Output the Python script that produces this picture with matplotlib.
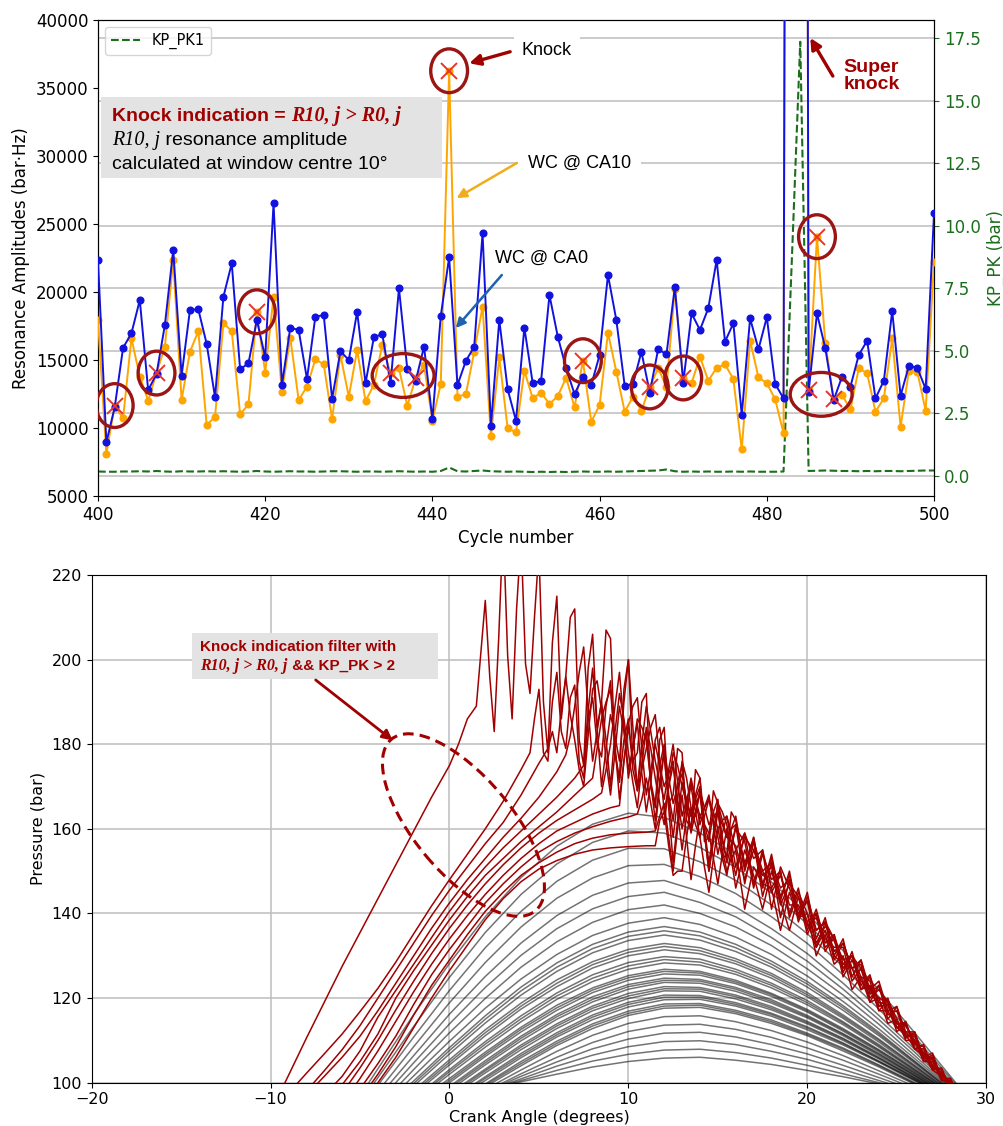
import numpy as np
import matplotlib.pyplot as plt
import matplotlib.transforms as mtransforms
from matplotlib.patches import Ellipse, Rectangle

## ---------------- upper panel : resonance amplitudes per cycle ----------------
Cycle_Number = list(range(400, 501))

## window centre at CA0 (blue)
WC_CA0 = [22350, 8950, 11520, 15900, 16960, 19410, 12790, 13970, 17570, 23090,
          13850, 18680, 18730, 16180, 12260, 19650, 22110, 14320, 14760, 17940,
          15200, 26520, 13160, 17380, 17210, 13600, 18180, 18310, 12150, 15650,
          15000, 18550, 13290, 16670, 16910, 13330, 20270, 14320, 13460, 15980,
          10640, 18240, 22550, 13160, 14930, 15980, 24320, 10150, 17940, 12850,
          10540, 17380, 13290, 13460, 19780, 16710, 14390, 12500, 13770, 13160,
          15370, 21250, 17940, 13110, 13240, 15610, 12600, 15790, 15420, 20390,
          13330, 18430, 17210, 18800, 22350, 16350, 17700, 10960, 18070, 15790,
          18140, 13240, 12180, 250000, 300000, 12670, 18430, 15860, 12060, 13770,
          13040, 15370, 16420, 12180, 13480, 18600, 12380, 14580, 14430, 12870, 25790]

## window centre at CA10 (orange)
WC_CA10 = [17940, 8090, 11650, 10710, 16600, 13770, 12010, 14040, 15980, 22350,
           12060, 15610, 17130, 10220, 10830, 17700, 17130, 11010, 11740, 18550,
           14070, 19650, 12670, 16640, 12060, 13040, 15050, 14680, 10660, 15370,
           12300, 15740, 11990, 13160, 16100, 14040, 14390, 11620, 13680, 14630,
           10540, 13240, 36270, 12300, 12480, 15600, 18920, 9410, 15200, 9980,
           9680, 14210, 12180, 12600, 11770, 12350, 13700, 11520, 14950, 10460,
           11690, 17010, 14140, 11200, 12300, 11270, 13020, 14390, 13040, 20200,
           13680, 13290, 15240, 13480, 14430, 14680, 13600, 8430, 16420, 13730,
           13290, 12110, 9610, 250000, 300000, 12800, 24070, 16230, 12150, 12430,
           11380, 14390, 14020, 11200, 12180, 16600, 10100, 14210, 14140, 11270, 22230]

## knock peak-to-peak pressure (right axis)
KP_PK1 = [0.18, 0.17, 0.17, 0.18, 0.18, 0.19, 0.18, 0.20, 0.18, 0.17,
          0.19, 0.18, 0.18, 0.19, 0.18, 0.19, 0.18, 0.17, 0.18, 0.20,
          0.18, 0.17, 0.18, 0.19, 0.18, 0.18, 0.17, 0.18, 0.19, 0.19,
          0.18, 0.17, 0.18, 0.18, 0.17, 0.18, 0.19, 0.18, 0.17, 0.18,
          0.17, 0.20, 0.34, 0.19, 0.18, 0.20, 0.22, 0.19, 0.18, 0.17,
          0.18, 0.17, 0.16, 0.17, 0.16, 0.17, 0.16, 0.17, 0.18, 0.17,
          0.17, 0.18, 0.17, 0.18, 0.19, 0.20, 0.21, 0.22, 0.26, 0.19,
          0.17, 0.18, 0.17, 0.18, 0.17, 0.17, 0.18, 0.17, 0.18, 0.17,
          0.17, 0.17, 0.18, 8.7, 17.36, 0.20, 0.21, 0.22, 0.21, 0.20,
          0.20, 0.19, 0.20, 0.19, 0.20, 0.20, 0.19, 0.20, 0.21, 0.22, 0.22]

## cycles flagged as knock (R10,j > R0,j) and how they are circled
Knock_Cycles = [402, 407, 419, 435, 438, 442, 458, 466, 470, 485, 486, 488]
Circled_Groups = [[402], [407], [419], [435, 438], [442], [458], [466], [470], [486], [485, 488]]

## ---------------- lower panel : in-cylinder pressure traces ----------------
Gray_Crank_Angle = list(range(-6, 31, 2))
Gray_Pressure = [
    [90.3, 103.3, 116.1, 128.2, 139.2, 148.5, 155.9, 161.1, 163.7, 162.7, 159.0, 154.0, 147.4, 139.9, 131.2, 121.9, 111.8, 101.5, 91.2],
    [89.0, 101.2, 113.3, 124.9, 135.5, 144.5, 151.7, 156.8, 159.5, 159.0, 155.6, 150.9, 144.8, 137.5, 129.3, 120.3, 110.8, 101.0, 91.1],
    [87.9, 99.4, 110.8, 121.8, 131.9, 140.5, 147.6, 152.6, 155.4, 155.3, 152.2, 147.8, 142.0, 135.2, 127.4, 118.9, 109.8, 100.4, 91.0],
    [87.1, 97.9, 108.5, 118.9, 128.4, 136.8, 143.6, 148.4, 151.3, 151.6, 148.7, 144.7, 139.2, 132.9, 125.5, 117.4, 108.8, 100.0, 91.1],
    [86.5, 96.5, 106.4, 116.2, 125.1, 133.0, 139.5, 144.3, 147.2, 147.8, 145.2, 141.5, 136.4, 130.5, 123.5, 115.9, 107.9, 99.6, 91.3],
    [85.9, 95.3, 104.7, 113.9, 122.5, 130.1, 136.4, 141.1, 144.0, 145.0, 142.6, 139.2, 134.3, 128.7, 122.1, 114.9, 107.2, 99.2, 91.2],
    [85.4, 94.2, 103.1, 111.8, 119.9, 127.3, 133.3, 137.9, 140.9, 142.0, 140.0, 136.8, 132.4, 126.9, 120.7, 113.8, 106.4, 98.9, 91.3],
    [85.1, 93.4, 101.6, 109.8, 117.6, 124.5, 130.3, 134.8, 137.7, 139.0, 137.4, 134.4, 130.3, 125.2, 119.2, 112.7, 105.7, 98.6, 91.4],
    [84.5, 92.4, 100.4, 108.3, 115.8, 122.6, 128.3, 132.7, 135.6, 136.9, 135.6, 132.7, 128.7, 123.9, 118.2, 111.9, 105.1, 98.3, 91.3],
    [84.3, 92.0, 99.8, 107.6, 115.0, 121.7, 127.3, 131.7, 134.6, 135.9, 134.7, 131.9, 128.0, 123.3, 117.7, 111.5, 104.9, 98.2, 91.4],
    [84.0, 91.6, 99.2, 106.8, 114.1, 120.7, 126.3, 130.7, 133.6, 134.9, 133.7, 131.0, 127.3, 122.6, 117.1, 111.1, 104.6, 98.0, 91.4],
    [83.6, 90.9, 98.2, 105.4, 112.5, 118.8, 124.3, 128.6, 131.5, 132.9, 131.9, 129.3, 125.8, 121.3, 116.0, 110.3, 104.1, 97.8, 91.5],
    [83.3, 90.5, 97.7, 104.8, 111.8, 118.1, 123.5, 127.9, 130.8, 132.2, 131.2, 128.7, 125.3, 120.8, 115.6, 110.0, 103.9, 97.7, 91.5],
    [83.0, 90.1, 97.2, 104.2, 111.1, 117.4, 122.7, 127.1, 130.0, 131.4, 130.5, 128.1, 124.7, 120.3, 115.2, 109.6, 103.6, 97.5, 91.4],
    [82.6, 89.4, 96.2, 103.1, 109.7, 115.8, 121.2, 125.5, 128.4, 129.8, 129.2, 126.8, 123.5, 119.4, 114.4, 109.0, 103.2, 97.4, 91.4],
    [82.4, 89.1, 95.8, 102.6, 109.1, 115.1, 120.5, 124.7, 127.6, 129.1, 128.5, 126.2, 123.0, 118.9, 114.1, 108.7, 103.0, 97.3, 91.5],
    [82.2, 88.8, 95.4, 102.0, 108.4, 114.4, 119.7, 123.9, 126.8, 128.3, 127.8, 125.6, 122.4, 118.4, 113.7, 108.4, 102.8, 97.2, 91.5],
    [81.8, 88.2, 94.6, 101.0, 107.2, 113.1, 118.3, 122.4, 125.3, 126.8, 126.3, 124.2, 121.1, 117.3, 112.8, 107.8, 102.5, 97.0, 91.6],
    [81.6, 87.9, 94.2, 100.5, 106.7, 112.6, 117.7, 121.9, 124.8, 126.3, 125.9, 123.8, 120.8, 117.0, 112.5, 107.6, 102.3, 96.9, 91.6],
    [81.3, 87.5, 93.8, 100.0, 106.2, 112.0, 117.1, 121.3, 124.2, 125.7, 125.4, 123.4, 120.4, 116.7, 112.2, 107.3, 102.1, 96.8, 91.5],
    [80.7, 86.8, 92.9, 99.1, 105.2, 111.0, 116.1, 120.3, 123.2, 124.7, 124.4, 122.5, 119.6, 115.9, 111.6, 106.9, 101.8, 96.6, 91.5],
    [80.5, 86.5, 92.6, 98.7, 104.7, 110.5, 115.6, 119.7, 122.7, 124.2, 124.0, 122.1, 119.2, 115.6, 111.4, 106.7, 101.7, 96.6, 91.5],
    [80.2, 86.2, 92.2, 98.2, 104.2, 109.9, 115.0, 119.1, 122.1, 123.7, 123.5, 121.6, 118.8, 115.3, 111.1, 106.4, 101.5, 96.5, 91.5],
    [79.7, 85.6, 91.5, 97.4, 103.2, 108.9, 113.9, 118.1, 121.1, 122.7, 122.5, 120.7, 118.0, 114.5, 110.5, 106.0, 101.2, 96.4, 91.5],
    [79.6, 85.4, 91.2, 97.0, 102.8, 108.4, 113.4, 117.6, 120.5, 122.2, 122.1, 120.3, 117.6, 114.2, 110.3, 105.8, 101.1, 96.3, 91.5],
    [79.4, 85.2, 90.9, 96.6, 102.3, 107.8, 112.8, 117.0, 119.9, 121.7, 121.6, 119.8, 117.2, 113.9, 110.0, 105.6, 100.9, 96.2, 91.5],
    [79.0, 84.6, 90.2, 95.8, 101.4, 106.9, 111.8, 116.0, 119.0, 120.7, 120.6, 118.9, 116.4, 113.2, 109.4, 105.1, 100.7, 96.2, 91.6],
    [79.0, 84.5, 90.0, 95.5, 101.0, 106.4, 111.3, 115.5, 118.5, 120.2, 120.2, 118.5, 116.1, 112.9, 109.2, 105.0, 100.6, 96.2, 91.7],
    [78.9, 84.3, 89.7, 95.1, 100.5, 105.9, 110.8, 114.9, 117.9, 119.6, 119.7, 118.1, 115.7, 112.5, 108.9, 104.8, 100.4, 96.1, 91.7],
    [78.6, 83.9, 89.2, 94.5, 99.7, 105.0, 109.8, 113.9, 116.9, 118.6, 118.7, 117.1, 114.8, 111.7, 108.2, 104.2, 100.0, 95.8, 91.6],
    [78.6, 83.8, 89.0, 94.2, 99.4, 104.5, 109.3, 113.4, 116.4, 118.1, 118.3, 116.7, 114.4, 111.4, 107.9, 104.0, 99.8, 95.7, 91.5],
    [78.6, 83.7, 88.8, 93.9, 99.0, 104.0, 108.8, 112.8, 115.9, 117.6, 117.8, 116.3, 114.0, 111.1, 107.5, 103.7, 99.6, 95.5, 91.4],
    [79.7, 84.4, 89.1, 93.7, 98.4, 103.0, 107.4, 111.2, 114.0, 115.6, 115.8, 114.4, 112.3, 109.6, 106.4, 102.8, 99.1, 95.3, 91.6],
    [81.3, 85.5, 89.6, 93.8, 97.9, 102.1, 106.0, 109.5, 112.1, 113.6, 113.8, 112.6, 110.7, 108.2, 105.3, 102.0, 98.6, 95.3, 91.9],
    [83.3, 87.0, 90.6, 94.2, 97.8, 101.5, 104.9, 108.0, 110.3, 111.7, 111.9, 110.8, 109.0, 106.8, 104.1, 101.2, 98.2, 95.2, 92.2],
    [85.7, 88.7, 91.8, 94.8, 97.9, 100.9, 103.9, 106.5, 108.5, 109.7, 109.9, 109.0, 107.4, 105.5, 103.1, 100.5, 97.9, 95.3, 92.7],
    [88.1, 90.5, 93.0, 95.5, 98.0, 100.5, 102.9, 105.1, 106.7, 107.7, 107.9, 107.1, 105.8, 104.1, 102.1, 100.0, 97.8, 95.7, 93.5],
    [90.8, 92.6, 94.5, 96.4, 98.3, 100.2, 102.0, 103.7, 105.0, 105.8, 106.0, 105.3, 104.3, 102.9, 101.4, 99.7, 97.9, 96.2, 94.5],
]


def steps(start, stop, step):
    ## crank angle positions of the sampled knocking part of a trace
    n = int(round((stop - start) / step))
    return [start + k * step for k in range(n + 1)]


## knocking cycles (red): crank angle and pressure, knock oscillation sampled finer
Red1_CA = list(range(-10, 1)) + [0.5, 1, 1.5] + steps(2, 16, 0.25) + steps(16.5, 28.5, 0.5)
Red1_P = [93, 101.7, 110.5, 119, 127.5, 135.5, 143.5, 151.5, 159.5, 167.5, 175, 180, 186, 189,
          214, 196, 183, 205, 232, 201, 186, 212, 229,
          199, 192, 210, 226, 190, 178, 204, 215,
          186, 196, 210, 212, 181, 175, 198, 206,
          184, 190, 207, 205, 178, 172, 193, 200,
          176, 178, 190, 192, 170, 165, 181, 184,
          166, 168, 179, 178, 162, 160, 174, 172,
          157, 158, 169, 166, 153, 154, 164, 162,
          151, 158, 147, 153, 144, 149, 139, 143, 136, 138, 131, 133, 127, 129, 122, 124, 117, 118, 112, 112,
          106, 107, 101, 101, 96]

Red2_CA = list(range(-9, 5)) + [4.5] + steps(4.75, 16, 0.25) + steps(16.5, 28.5, 0.5)
Red2_P = [97.5, 102.2, 106.8, 111.5, 116.8, 122.3, 128.5, 135.2, 141.8, 148, 154, 160, 166.5, 174, 178,
          186, 193, 178, 176, 190, 197, 183, 179, 191, 194, 176, 172, 186, 191, 180, 177, 189, 195, 178, 171,
          181, 186, 174, 169, 179, 183, 171, 166, 175, 180, 168, 162, 171, 175, 165, 160, 168, 172, 161, 157,
          164, 167, 157, 153, 160, 163,
          150, 158, 146, 154, 143, 150, 139, 145, 134, 139, 130, 134, 125, 129, 121, 123, 115, 118, 110.5, 112,
          105.5, 106.5, 100.5, 101, 96]

Red3_CA = list(range(-8, 6)) + [5.5] + steps(5.75, 16, 0.25) + steps(16.5, 28.5, 0.5)
Red3_P = [98, 102.8, 107.8, 113.5, 120, 126.5, 133, 139.5, 145.5, 151, 156.5, 161.5, 168, 175.5, 179,
          183, 178, 188, 196, 187, 181, 174, 170, 182, 193, 195, 188, 176, 168, 178, 189, 183, 174, 179, 185,
          173, 164, 171, 181, 184, 177, 167, 158, 167, 176, 172, 165, 163, 169, 160, 152, 159, 166, 164, 161,
          154, 149,
          159, 153, 155, 141, 151, 146, 140, 143, 132, 138, 134, 127, 130, 125, 124, 117, 119.5, 115, 111, 111,
          106, 105.5, 101, 100, 97]

Red4_CA = list(range(-8, 7)) + [6.5] + steps(6.75, 16, 0.25) + steps(16.5, 28.5, 0.5)
Red4_P = [97, 101.5, 106, 111, 117, 123.5, 130, 136.5, 142.5, 148, 153, 158, 162.5, 167.5, 173.5, 177.5,
          182, 189, 197, 203, 188, 176, 183, 190, 181, 170, 183, 192, 186, 178, 171, 165, 175, 184, 179, 172,
          166, 161, 170, 178, 175, 170, 166, 163, 167, 170, 159, 150, 158, 166, 162, 158, 160, 161,
          147, 157, 150, 152, 139, 148, 141, 138, 140, 131, 135, 128, 130, 122, 125, 119, 118.5, 112, 114, 108,
          108, 103.5, 102.5, 99, 97]

Red5_CA = list(range(-7, 8)) + [7.5] + steps(7.75, 16, 0.25) + steps(16.5, 28.5, 0.5)
Red5_P = [97, 101.5, 107.5, 115.5, 121.8, 128, 134.3, 140.5, 146, 151, 155.5, 159.5, 163.5, 167.5, 172, 175,
          188, 198, 184, 170, 179, 187, 182, 176, 190, 200, 184, 169, 174, 179, 184, 187, 176, 164, 170, 175,
          167, 160, 166, 172, 167, 161, 165, 168, 161, 154, 159, 163, 159, 155,
          159, 147, 155, 146, 150, 140, 146, 136, 141, 133, 135, 126, 131, 123, 125.5, 118, 120, 113, 114.5, 108,
          109, 103, 103.5, 98.5, 97]

Red6_CA = list(range(-6, 9)) + steps(8.25, 16, 0.25) + steps(16.5, 28.5, 0.5)
Red6_P = [99.5, 105, 111.5, 120, 126.5, 132.5, 138.5, 144, 149, 153, 157, 160.5, 164, 168, 172,
          179, 186, 190, 193, 180, 167, 176, 185, 189, 191, 179, 168, 174, 180, 175, 170, 173, 176, 164, 155,
          163, 171, 167, 163, 165, 167, 162, 158, 153, 149, 155, 161,
          152, 157, 144, 152, 146, 148, 138, 144, 136, 138, 129, 133, 127, 128, 119, 123, 116, 117, 111, 111.5,
          105, 106, 101, 100.5, 96.5]

Red7_CA = list(range(-6, 9)) + [8.5] + steps(8.75, 16, 0.25) + steps(16.5, 28.5, 0.5)
Red7_P = [97.5, 103.5, 110, 117.2, 124, 130.5, 136.5, 142, 147, 151.5, 155.5, 159, 162, 164.5, 167, 168.5,
          174, 180, 189, 197, 184, 172, 179, 186, 184, 181, 171, 162, 171, 179, 172, 166, 170, 173, 166, 159,
          164, 169, 165, 161, 163, 164, 158, 152, 156, 160,
          157, 146, 154, 148, 150, 139, 145, 140, 133, 137, 134, 129, 130, 127, 120, 122, 119, 114, 114, 109,
          108.5, 104, 103, 99, 97]

Red8_CA = list(range(-6, 10)) + [9.5] + steps(9.75, 16, 0.25) + steps(16.5, 28.5, 0.5)
Red8_P = [95, 101, 107.5, 114.5, 121.5, 128, 134, 139.5, 144.5, 149, 153, 156.5, 159.5, 161.5, 163.5, 165, 165.5,
          176, 184, 177, 170, 180, 189, 183, 176, 171, 167, 174, 180, 171, 163, 167, 170, 164, 158, 163, 167,
          164, 160, 162, 163, 157, 151,
          158, 155, 149, 151, 142, 147, 144, 135, 140, 134, 132, 132, 124, 127, 122, 120, 119, 113, 113.5, 110,
          107, 105.5, 101.5, 100, 96.5]

Red9_CA = list(range(-5, 11)) + [10.5] + steps(10.75, 16, 0.25) + steps(16.5, 28.5, 0.5)
Red9_P = [98.5, 104.5, 111, 118.5, 125.5, 131.5, 137, 142.5, 147, 151, 154.5, 157, 159, 160.5, 161.8, 162.8, 163.5,
          167, 172, 166, 160, 170, 178, 165, 152, 162, 171, 167, 163, 166, 168, 159, 150, 157, 164, 161, 158,
          157, 156,
          148, 155, 150, 145, 149, 142, 142, 137, 139, 132, 134, 125, 129, 124, 122, 118, 118.5, 114, 112, 109.5,
          107, 104, 102, 99.5, 97]

Red10_CA = list(range(-5, 12)) + [11.5] + steps(11.75, 16, 0.25) + steps(16.5, 28.5, 0.5)
Red10_P = [96, 102, 108.5, 116, 123, 129, 135, 140.5, 145, 149, 152, 154.5, 156.5, 157.8, 158.6, 159, 159.2, 159.5,
           163, 166, 158, 150, 160, 168, 158, 148, 156, 163, 161, 159, 153, 147, 154, 160, 153, 146,
           155, 149, 141, 150, 143, 136, 144, 138, 132, 136, 130, 128, 127, 122, 123, 117, 117, 113, 111.5, 108,
           106.5, 103, 101.5, 98.5, 96.5]

Red11_CA = list(range(-4, 12)) + [11.5] + steps(11.75, 16, 0.25) + steps(16.5, 28.5, 0.5)
Red11_P = [100, 106, 113, 120, 126.5, 132.5, 138.5, 143.5, 147.5, 150.5, 152.5, 154, 155, 155.5, 155.8, 156, 156,
           162, 164, 156, 149, 150, 150, 158, 165, 161, 158, 151, 145, 153, 160, 155, 150, 153, 155,
           141, 151, 147, 146, 136, 145, 139, 140, 130, 135, 128, 130, 122, 125, 119, 120, 114, 115, 110, 110,
           105, 105, 100.5, 100, 96]

Red_Traces = [(Red1_CA, Red1_P), (Red2_CA, Red2_P), (Red3_CA, Red3_P), (Red4_CA, Red4_P),
              (Red5_CA, Red5_P), (Red6_CA, Red6_P), (Red7_CA, Red7_P), (Red8_CA, Red8_P),
              (Red9_CA, Red9_P), (Red10_CA, Red10_P), (Red11_CA, Red11_P)]

## colours
Dark_Red = '#a00000'
Green = '#1b6e1b'
Blue = '#1212e0'
Orange = '#ffa500'
Sans = ['Liberation Sans', 'DejaVu Sans']
Serif = ['Liberation Serif', 'DejaVu Serif']

fig = plt.figure(figsize=(10.04, 11.26), dpi=100)

########################
## Upper panel        ##
########################
ax = fig.add_axes([0.0976, 0.5595, 0.8327, 0.4227])
ax2 = ax.twinx()
ax.set_zorder(ax2.get_zorder() + 1)
ax.patch.set_visible(False)

## KP_PK on the right axis, its grid is the one shown
kp_line, = ax2.plot(Cycle_Number, KP_PK1, linestyle='--', color=Green, lw=1.5, label='KP_PK1')
ax2.set_ylim(-0.8, 18.23)
ax2.set_yticks(np.arange(0, 17.6, 2.5))
ax2.yaxis.set_major_formatter('{x:.1f}')
ax2.tick_params(axis='y', colors=Green, labelsize=12)
ax2.set_ylabel('KP_PK (bar)', color=Green, fontsize=12)
ax2.grid(True, axis='y', color='#bdbdbd', lw=1.1)

ax.plot(Cycle_Number, WC_CA10, '-o', color=Orange, ms=4.8, lw=1.4, zorder=3)
ax.plot(Cycle_Number, WC_CA0, '-o', color=Blue, ms=4.8, lw=1.4, zorder=4)

knock_values = [WC_CA10[Cycle_Number.index(c)] for c in Knock_Cycles]
ax.plot(Knock_Cycles, knock_values, 'x', color='#e8342a', ms=11, mew=1.4, zorder=6)

for group in Circled_Groups:
    vals = [WC_CA10[Cycle_Number.index(c)] for c in group]
    cx = sum(group) / len(group)
    cy = sum(vals) / len(vals)
    width = 4.4 + (max(group) - min(group))
    ax.add_patch(Ellipse((cx, cy), width, 3220, fill=False, edgecolor='#9b1515', lw=2.4, zorder=7))

ax.set_xlim(400, 500)
ax.set_ylim(5000, 40000)
ax.set_xticks(range(400, 501, 20))
ax.tick_params(labelsize=12)
ax.set_xlabel('Cycle number', fontsize=12)
ax.set_ylabel('Resonance Amplitudes (bar\u00b7Hz)', fontsize=12)

ax.legend(handles=[kp_line], loc='upper left', fontsize=10.5)

## grey explanation box
ax.add_patch(Rectangle((0.0036, 0.668), 0.408, 0.170, transform=ax.transAxes,
                       facecolor='#e3e3e3', edgecolor='none', zorder=8))
t1 = ax.text(0.0167, 0.7983, 'Knock indication = ', transform=ax.transAxes, fontsize=14,
             fontweight='bold', color=Dark_Red, family=Sans, va='center', zorder=9)
ax.annotate('R10, j > R0, j', xy=(1, 0.5), xycoords=t1, va='center', ha='left', fontsize=14.5,
            fontweight='bold', fontstyle='italic', color=Dark_Red, family=Serif, zorder=9)
t2 = ax.text(0.0167, 0.7479, 'R10, j', transform=ax.transAxes, fontsize=14.5, fontstyle='italic',
             family=Serif, va='center', zorder=9)
ax.annotate(' resonance amplitude', xy=(1, 0.5), xycoords=t2, va='center', ha='left', fontsize=14,
            family=Sans, zorder=9)
ax.text(0.0167, 0.6975, 'calculated at window centre 10\u00b0', transform=ax.transAxes, fontsize=14,
        family=Sans, va='center', zorder=9)

## call-outs
ax.text(453.7, 37790, 'Knock', fontsize=13, family=Sans, ha='center', va='center', zorder=9,
        bbox=dict(facecolor='white', edgecolor='none', pad=6))
ax.annotate('', xy=(444.4, 36820), xytext=(449.3, 37670), zorder=9,
            arrowprops=dict(arrowstyle='-|>', color=Dark_Red, lw=2.4, mutation_scale=16, shrinkA=0, shrinkB=0))

ax.text(457.6, 29490, 'WC @ CA10', fontsize=13, family=Sans, ha='center', va='center', zorder=9,
        bbox=dict(facecolor='white', edgecolor='none', pad=7))
ax.annotate('', xy=(442.9, 26910), xytext=(450.1, 29490), zorder=9,
            arrowprops=dict(arrowstyle='-|>', color='#f2ac1a', lw=1.8, mutation_scale=14, shrinkA=0, shrinkB=0))

ax.text(453.1, 22500, 'WC @ CA0', fontsize=13, family=Sans, ha='center', va='center', zorder=9,
        bbox=dict(facecolor='white', edgecolor='none', pad=4))
ax.annotate('', xy=(442.8, 17350), xytext=(448.3, 21250), zorder=9,
            arrowprops=dict(arrowstyle='-|>', color='#1f63b0', lw=1.8, mutation_scale=14, shrinkA=0, shrinkB=0))

ax.text(492.5, 35880, 'Super\nknock', fontsize=14, fontweight='bold', family=Sans, color=Dark_Red,
        ha='center', va='center', linespacing=1.05, zorder=9)
ax.annotate('', xy=(485.2, 38680), xytext=(487.9, 35880), zorder=9,
            arrowprops=dict(arrowstyle='-|>', color=Dark_Red, lw=2.4, mutation_scale=16, shrinkA=0, shrinkB=0))

########################
## Lower panel        ##
########################
bx = fig.add_axes([0.0913, 0.0385, 0.8910, 0.4508])

for trace in Gray_Pressure:
    bx.plot(Gray_Crank_Angle, trace, color='black', alpha=0.55, lw=1.1, zorder=2)

for ca, p in Red_Traces:
    assert len(ca) == len(p)
    bx.plot(ca, p, color=Dark_Red, lw=1.1, zorder=3)

bx.set_xlim(-20, 30)
bx.set_ylim(100, 220)
bx.set_xticks(range(-20, 31, 10))
bx.set_yticks(range(100, 221, 20))
bx.grid(True, color='#bdbdbd', lw=1.1)
bx.set_axisbelow(True)
bx.tick_params(labelsize=11.5)
bx.set_xlabel('Crank Angle (degrees)', fontsize=11.5, labelpad=2)
bx.set_ylabel('Pressure (bar)', fontsize=11.5)

## annotation box and dashed ellipse
bx.add_patch(Rectangle((-14.39, 195.4), 13.74, 10.8, facecolor='#e3e3e3', edgecolor='none', zorder=5))
bx.text(-13.93, 202.9, 'Knock indication filter with', fontsize=11, fontweight='bold', color=Dark_Red,
        family=Sans, va='center', zorder=6)
b1 = bx.text(-13.93, 198.5, 'R10, j > R0, j', fontsize=11.5, fontweight='bold', fontstyle='italic',
             color=Dark_Red, family=Serif, va='center', zorder=6)
bx.annotate(' && KP_PK > 2', xy=(1, 0.5), xycoords=b1, va='center', ha='left', fontsize=11,
            fontweight='bold', color=Dark_Red, family=Sans, zorder=6)
bx.annotate('', xy=(-3.17, 180.9), xytext=(-7.48, 195.2), zorder=6,
            arrowprops=dict(arrowstyle='-|>', color=Dark_Red, lw=2.0, mutation_scale=15, shrinkA=0, shrinkB=0))

ellipse_pos = mtransforms.ScaledTranslation(0.78, 160.9, bx.transData)
bx.add_patch(Ellipse((0, 0), 2.24, 0.97, angle=-50, transform=fig.dpi_scale_trans + ellipse_pos,
                     fill=False, edgecolor=Dark_Red, lw=2.2, linestyle=(0, (3.5, 2)), zorder=6))

fig.savefig('out.png', dpi=100)
